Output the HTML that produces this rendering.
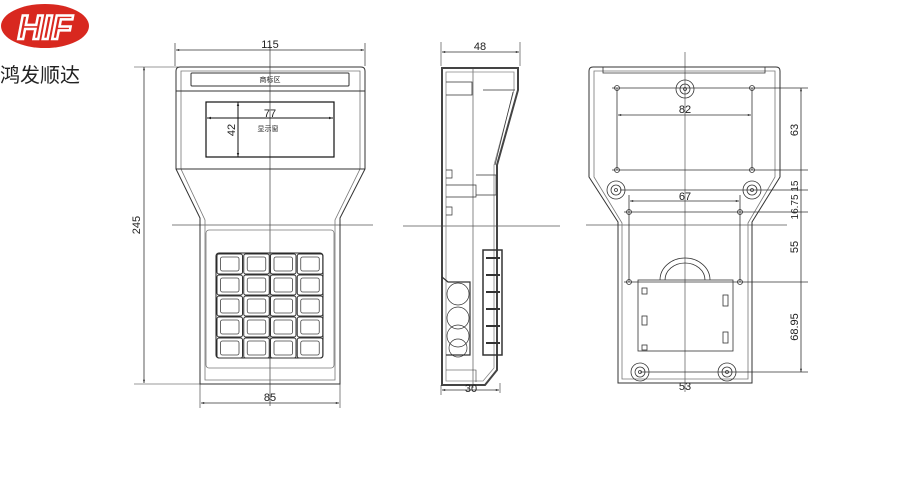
<!DOCTYPE html>
<html><head><meta charset="utf-8"><style>
html,body{margin:0;padding:0;background:#fff;width:900px;height:500px;overflow:hidden}
svg{display:block}
text{font-family:"Liberation Sans","Noto Sans CJK SC",sans-serif}
</style></head><body>
<svg width="900" height="500" viewBox="0 0 900 500" xmlns="http://www.w3.org/2000/svg">
<defs>
<marker id="a" viewBox="0 0 10 10" refX="10" refY="5" markerWidth="6" markerHeight="4" orient="auto-start-reverse"><path d="M0,2 L10,5 L0,8z" fill="#222"/></marker>
<g id="k"><rect x="0.5" y="0.5" width="25.5" height="20" rx="2" fill="none" stroke="#333" stroke-width="1"/><rect x="4" y="3.5" width="18.5" height="14" rx="2" fill="none" stroke="#444" stroke-width="0.8"/></g>
</defs>
<!-- logo -->
<ellipse cx="45" cy="26" rx="44" ry="22" fill="#d8281f"/>
<text x="45" y="39" font-size="34" font-weight="bold" font-style="italic" fill="#d8281f" stroke="#fff" stroke-width="2.5" text-anchor="middle" font-family="Liberation Sans">HIF</text>
<text x="0" y="82" font-size="20" fill="#222" font-family="Noto Sans CJK SC,sans-serif">鸿发顺达</text>

<g fill="none" stroke="#333" stroke-width="1">
<!-- FRONT VIEW -->
<line x1="270" y1="45" x2="270" y2="406" stroke="#555" stroke-width="0.8"/>
<line x1="172" y1="225" x2="373" y2="225" stroke="#555" stroke-width="0.8"/>
<line x1="175" y1="43" x2="175" y2="66" stroke-width="0.7"/>
<line x1="365" y1="43" x2="365" y2="66" stroke-width="0.7"/>
<line x1="176" y1="50" x2="364" y2="50" marker-start="url(#a)" marker-end="url(#a)" stroke-width="0.8"/>
<path d="M180,67 H361 Q365,67 365,71 V169 L340,218 V384 H200 V218 L176,169 V71 Q176,67 180,67Z"/>
<path d="M181,71 H360 V169 L335,220 V380 H205 V220 L181,169Z" stroke="#777" stroke-width="0.8"/>
<line x1="176" y1="91" x2="365" y2="91"/>
<line x1="176" y1="169" x2="365" y2="169"/>
<rect x="191" y="73" width="158" height="13" rx="1"/>
<rect x="206" y="102" width="128" height="55" stroke="#111" stroke-width="1.2"/>
<line x1="238" y1="102" x2="238" y2="157" marker-start="url(#a)" marker-end="url(#a)" stroke="#111"/>
<line x1="207" y1="118" x2="333" y2="118" marker-start="url(#a)" marker-end="url(#a)" stroke="#111"/>
<rect x="206" y="230" width="128" height="138" rx="3" stroke="#777" stroke-width="0.8"/>
<rect x="216" y="253" width="107" height="105" rx="3" stroke="#222"/>
<line x1="144" y1="67" x2="144" y2="383" marker-start="url(#a)" marker-end="url(#a)" stroke-width="0.8"/>
<line x1="134" y1="67" x2="178" y2="67" stroke-width="0.6"/>
<line x1="134" y1="384" x2="200" y2="384" stroke-width="0.6"/>
<line x1="200" y1="384" x2="200" y2="408" stroke-width="0.6"/>
<line x1="340" y1="384" x2="340" y2="408" stroke-width="0.6"/>
<line x1="201" y1="403" x2="339" y2="403" marker-start="url(#a)" marker-end="url(#a)" stroke-width="0.8"/>

<!-- SIDE VIEW -->
<line x1="403" y1="226" x2="560" y2="226" stroke="#555" stroke-width="0.8"/>
<line x1="473" y1="67" x2="473" y2="388" stroke="#555" stroke-width="0.7"/>
<line x1="441" y1="42" x2="441" y2="66" stroke-width="0.6"/>
<line x1="520" y1="42" x2="520" y2="66" stroke-width="0.6"/>
<line x1="442" y1="52" x2="519" y2="52" marker-start="url(#a)" marker-end="url(#a)" stroke-width="0.8"/>
<path d="M442,68 H518 V90 L497,165 V370 L485,385 H442 Z" stroke="#444" stroke-width="2"/>
<path d="M446,72 H514 V90 L494,165 V368 L483,381 H446 Z" stroke="#888" stroke-width="0.8"/>
<path d="M446,82 H472 V95 H446" stroke-width="0.8"/>
<path d="M483,90 H515 M513,92 L495,165" stroke-width="0.7"/>
<path d="M446,170 h6 v8 h-6 M446,185 h30 v12 h-30 M446,207 h6 v8 h-6 M476,175 h20 v20 h-20" stroke-width="0.7"/>
<path d="M442,277 L448,282 H470 V355 H446" stroke-width="1.2"/>
<circle cx="458" cy="294" r="11" stroke-width="0.7"/>
<circle cx="458" cy="318" r="11" stroke-width="0.7"/>
<circle cx="458" cy="336" r="11" stroke-width="0.7"/>
<circle cx="458" cy="348" r="9" stroke-width="0.7"/>
<rect x="483" y="250" width="19" height="105" stroke-width="1.5"/>
<path d="M486,258 h14 M486,275 h14 M486,292 h14 M486,309 h14 M486,326 h14 M486,343 h14" stroke-width="2"/>
<path d="M446,370 h30 v12 M441,385 v10 M500,383 v10" stroke-width="0.6"/>
<line x1="442" y1="390" x2="499" y2="390" marker-start="url(#a)" marker-end="url(#a)" stroke-width="0.8"/>

<!-- BACK VIEW -->
<line x1="685" y1="52" x2="685" y2="392" stroke="#555" stroke-width="0.7"/>
<line x1="586" y1="225" x2="787" y2="225" stroke="#555" stroke-width="0.8"/>
<path d="M593,67 H776 Q780,67 780,71 V177 L752,222 V383 H618 V222 L589,177 V71 Q589,67 593,67Z"/>
<path d="M594,71 H775 V177 L748,223 V379 H622 V223 L594,177 Z" stroke="#777" stroke-width="0.8"/>
<path d="M603,67 V73 H765 V67" stroke-width="0.8"/>
<g stroke-width="0.8">
<circle cx="685" cy="89" r="9"/><circle cx="685" cy="89" r="5"/><circle cx="685" cy="89" r="1.5"/>
<circle cx="616" cy="190" r="9"/><circle cx="616" cy="190" r="5"/><circle cx="616" cy="190" r="1.5"/>
<circle cx="752" cy="190" r="9"/><circle cx="752" cy="190" r="5"/><circle cx="752" cy="190" r="1.5"/>
<circle cx="640" cy="372" r="9"/><circle cx="640" cy="372" r="5"/><circle cx="640" cy="372" r="1.5"/>
<circle cx="727" cy="372" r="9"/><circle cx="727" cy="372" r="5"/><circle cx="727" cy="372" r="1.5"/>
<circle cx="617" cy="88" r="2.5"/><circle cx="752" cy="88" r="2.5"/>
<circle cx="617" cy="170" r="2.5"/><circle cx="752" cy="170" r="2.5"/>
<circle cx="629" cy="212" r="2.5"/><circle cx="740" cy="212" r="2.5"/>
<circle cx="629" cy="282" r="2.5"/><circle cx="740" cy="282" r="2.5"/>
<line x1="612" y1="88" x2="808" y2="88"/>
<line x1="612" y1="170" x2="808" y2="170"/>
<line x1="620" y1="190" x2="808" y2="190"/>
<line x1="624" y1="212" x2="808" y2="212"/>
<line x1="624" y1="282" x2="808" y2="282"/>
<line x1="640" y1="372" x2="808" y2="372"/>
<line x1="617" y1="88" x2="617" y2="170"/>
<line x1="752" y1="88" x2="752" y2="170"/>
<line x1="629" y1="195" x2="629" y2="282"/>
<line x1="740" y1="195" x2="740" y2="282"/>
<line x1="618" y1="115" x2="751" y2="115" marker-start="url(#a)" marker-end="url(#a)"/>
<line x1="630" y1="201" x2="739" y2="201" marker-start="url(#a)" marker-end="url(#a)"/>
<line x1="801" y1="88" x2="801" y2="372" marker-start="url(#a)" marker-end="url(#a)"/>
<rect x="638" y="280" width="95" height="71"/>
<path d="M660,280 A25,22 0 0 1 710,280 M665,280 A20,17 0 0 1 705,280"/>
<rect x="642" y="288" width="5" height="6"/><rect x="642" y="316" width="5" height="9"/><rect x="642" y="345" width="5" height="5"/>
<rect x="723" y="295" width="5" height="11"/><rect x="723" y="332" width="5" height="11"/>
</g>
</g>
<!-- keypad keys -->
<g>
<use href="#k" x="216.5" y="253.5"/><use href="#k" x="243.25" y="253.5"/><use href="#k" x="270" y="253.5"/><use href="#k" x="296.75" y="253.5"/>
<use href="#k" x="216.5" y="274.5"/><use href="#k" x="243.25" y="274.5"/><use href="#k" x="270" y="274.5"/><use href="#k" x="296.75" y="274.5"/>
<use href="#k" x="216.5" y="295.5"/><use href="#k" x="243.25" y="295.5"/><use href="#k" x="270" y="295.5"/><use href="#k" x="296.75" y="295.5"/>
<use href="#k" x="216.5" y="316.5"/><use href="#k" x="243.25" y="316.5"/><use href="#k" x="270" y="316.5"/><use href="#k" x="296.75" y="316.5"/>
<use href="#k" x="216.5" y="337.5"/><use href="#k" x="243.25" y="337.5"/><use href="#k" x="270" y="337.5"/><use href="#k" x="296.75" y="337.5"/>
</g>
<g fill="#222" font-size="11" text-anchor="middle">
<text x="270" y="48">115</text>
<text x="270" y="117">77</text>
<text x="270" y="401">85</text>
<text x="480" y="50">48</text>
<text x="471" y="392">30</text>
<text x="685" y="113">82</text>
<text x="685" y="200">67</text>
<text x="685" y="390">53</text>
<text x="140" y="225" transform="rotate(-90 140 225)">245</text>
<text x="235" y="130" transform="rotate(-90 235 130)">42</text>
<text x="798" y="130" transform="rotate(-90 798 130)">63</text>
<text x="798" y="200" transform="rotate(-90 798 200)" font-size="10">16.75 15</text>
<text x="798" y="247" transform="rotate(-90 798 247)">55</text>
<text x="798" y="327" transform="rotate(-90 798 327)">68.95</text>
<text x="270" y="82" font-size="7">商标区</text>
<text x="268" y="131" font-size="7">显示窗</text>
</g>
</svg>
</body></html>
